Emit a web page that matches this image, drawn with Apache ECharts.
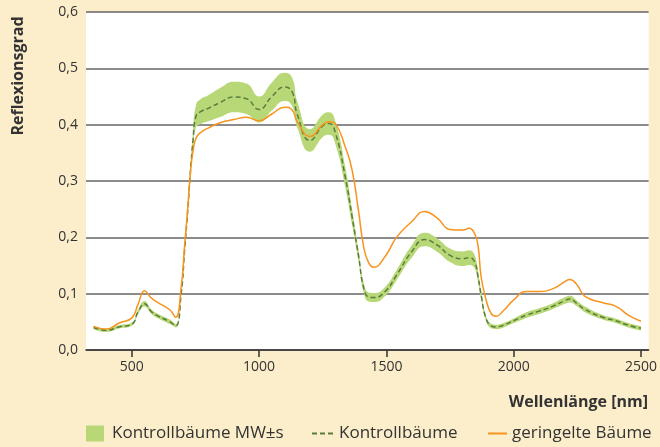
<!DOCTYPE html>
<html>
<head>
<meta charset="utf-8">
<script src="https://cdn.jsdelivr.net/npm/echarts@6/dist/echarts.min.js"></script>
<style>
html,body{margin:0;padding:0;background:#fdeecb;}
#c{width:660px;height:447px;}
</style>
</head>
<body>
<div id="c"></div>
<script>
// Wavelengths (nm)
const wavelengths = [350,400,450,500,525,550,575,600,650,672,694,707,720,730,740,752,770,800,850,900,950,1000,1050,1100,1130,1150,1200,1250,1275,1300,1338,1365,1391,1410,1430,1450,1495,1540,1600,1650,1700,1750,1800,1825,1846,1860,1872,1890,1911,1931,1960,2000,2050,2100,2150,2200,2220,2250,2280,2350,2400,2450,2500];
// Kontrollbäume mean (MW)
const kontrollMean = [0.040,0.035,0.041,0.046,0.068,0.082,0.069,0.061,0.050,0.043,0.100,0.175,0.250,0.315,0.370,0.415,0.423,0.429,0.440,0.449,0.446,0.427,0.450,0.467,0.458,0.418,0.372,0.398,0.402,0.385,0.308,0.237,0.166,0.112,0.094,0.093,0.104,0.133,0.175,0.196,0.186,0.168,0.162,0.164,0.157,0.130,0.098,0.058,0.043,0.041,0.044,0.052,0.062,0.069,0.077,0.0875,0.0905,0.082,0.072,0.058,0.052,0.044,0.0385];
// Kontrollbäume standard deviation (s)
const kontrollSD = [0.003,0.003,0.003,0.003,0.004,0.005,0.004,0.004,0.004,0.003,0.004,0.006,0.008,0.010,0.014,0.020,0.022,0.023,0.026,0.027,0.027,0.023,0.025,0.025,0.025,0.023,0.020,0.020,0.020,0.020,0.018,0.014,0.010,0.009,0.008,0.008,0.008,0.009,0.011,0.012,0.012,0.012,0.013,0.013,0.012,0.010,0.008,0.005,0.004,0.004,0.004,0.004,0.005,0.005,0.005,0.006,0.006,0.005,0.005,0.004,0.004,0.004,0.004];
// geringelte Bäume
const geringelt = [0.042,0.037,0.048,0.057,0.082,0.105,0.093,0.085,0.071,0.058,0.112,0.183,0.254,0.314,0.352,0.376,0.386,0.394,0.404,0.409,0.413,0.407,0.419,0.431,0.426,0.405,0.379,0.400,0.405,0.401,0.361,0.320,0.245,0.185,0.155,0.147,0.166,0.200,0.228,0.246,0.234,0.214,0.213,0.216,0.207,0.185,0.130,0.092,0.065,0.060,0.070,0.089,0.104,0.104,0.108,0.121,0.125,0.115,0.095,0.084,0.078,0.062,0.051];
// Axis ticks
const xTicks = [500,1000,1500,2000,2500];
const yTicks = [0,0.1,0.2,0.3,0.4,0.5,0.6];

const bandName = 'Kontrollbäume MW±s';
const meanName = 'Kontrollbäume';
const ringName = 'geringelte Bäume';

const FONT = 'Open Sans';
const TXT = '#333333';
const GREEN = '#b8d878';
const DARKGREEN = '#5a7d3c';
const ORANGE = '#f7941d';

// data stored as [value, wavelength] so that the stacked dimension is the value (y)
const lowerData = wavelengths.map((w,i)=>[kontrollMean[i]-kontrollSD[i], w]);
const bandData = wavelengths.map((w,i)=>[2*kontrollSD[i], w]);
const meanData = wavelengths.map((w,i)=>[w, kontrollMean[i]]);
const ringData = wavelengths.map((w,i)=>[w, geringelt[i]]);

const chart = echarts.init(document.getElementById('c'), null, {renderer:'canvas'});
const SM = 0.5;
const legendText = {fontFamily: FONT, fontSize: 17, color: TXT};
chart.setOption({
  backgroundColor: '#fdeecb',
  animation: false,
  textStyle: {fontFamily: FONT, color: TXT},
  grid: {left: 86, right: 7, top: 12, bottom: 97, show: true, backgroundColor: '#ffffff', borderWidth: 0},
  xAxis: {
    type: 'value', min: 320, max: 2530,
    axisLine: {show: true, lineStyle: {color: '#333', width: 1.5}},
    axisTick: {show: true, length: 7, lineStyle: {color: '#333', width: 1.5}, customValues: xTicks},
    axisLabel: {fontFamily: FONT, fontSize: 14, color: TXT, margin: 10, customValues: xTicks,
      formatter: v => String(v)},
    splitLine: {show: false}
  },
  yAxis: {
    type: 'value', min: 0, max: 0.6, interval: 0.1,
    axisLine: {show: false},
    axisTick: {show: false},
    axisLabel: {fontFamily: FONT, fontSize: 14, color: TXT, margin: 8,
      formatter: v => v.toFixed(1).replace('.', ',')},
    splitLine: {show: true, lineStyle: {color: '#666', width: 1.5}}
  },
  legend: [
    {left: 86, top: 425, itemWidth: 18, itemHeight: 16, padding: 0,
     textStyle: Object.assign({padding: [0,0,0,3]}, legendText),
     data: [{name: bandName, icon: 'rect', itemStyle: {color: GREEN}}]},
    {left: 312, top: 425, itemWidth: 21, itemHeight: 16, padding: 0,
     textStyle: Object.assign({padding: [0,0,0,1]}, legendText),
     data: [{name: meanName, icon: 'path://M0 0M21 16M0 7h5v2H0z M8 7h5v2H8z M16 7h5v2h-5z', itemStyle: {color: DARKGREEN}}]},
    {left: 488, top: 425, itemWidth: 19, itemHeight: 16, padding: 0,
     textStyle: legendText,
     data: [{name: ringName, icon: 'path://M0 0M19 16M0 7h19v2H0z', itemStyle: {color: ORANGE}}]}
  ],
  graphic: [
    {type: 'text', x: 18, y: 76, rotation: Math.PI/2,
     style: {text: 'Reflexionsgrad', fontFamily: FONT, fontSize: 16, fontWeight: 'bold', fill: TXT,
       textAlign: 'center', textVerticalAlign: 'middle'}},
    {type: 'text', x: 648, y: 402,
     style: {text: 'Wellenlänge [nm]', fontFamily: FONT, fontSize: 16, fontWeight: 'bold', fill: TXT,
       textAlign: 'right', textVerticalAlign: 'middle'}}
  ],
  series: [
    {name: 'lower', type: 'line', stack: 'band', data: lowerData, encode: {x: 1, y: 0}, smooth: SM,
     symbol: 'none', lineStyle: {width: 0, opacity: 0}, silent: true, z: 1},
    {name: bandName, type: 'line', stack: 'band', data: bandData, encode: {x: 1, y: 0}, smooth: SM,
     symbol: 'none', lineStyle: {width: 0, opacity: 0}, itemStyle: {color: GREEN},
     areaStyle: {color: GREEN, opacity: 1}, z: 2},
    {name: meanName, type: 'line', data: meanData, smooth: SM, symbol: 'none',
     itemStyle: {color: DARKGREEN},
     lineStyle: {color: DARKGREEN, width: 1.5, type: [5,3]}, z: 3},
    {name: ringName, type: 'line', data: ringData, smooth: SM, symbol: 'none',
     itemStyle: {color: ORANGE},
     lineStyle: {color: ORANGE, width: 1.5}, z: 4}
  ]
});
</script>
</body>
</html>
